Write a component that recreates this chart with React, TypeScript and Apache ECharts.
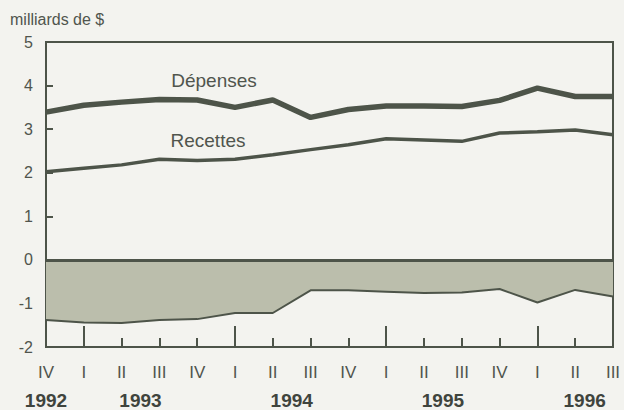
import React, { useEffect, useRef } from "react";
import * as echarts from "echarts";

const quarters = ["IV", "I", "II", "III", "IV", "I", "II", "III", "IV", "I", "II", "III", "IV", "I", "II", "III"];
const depenses = [3.39, 3.55, 3.62, 3.68, 3.67, 3.5, 3.67, 3.27, 3.45, 3.53, 3.53, 3.52, 3.66, 3.94, 3.75, 3.75];
const recettes = [2.02, 2.1, 2.18, 2.31, 2.28, 2.31, 2.41, 2.53, 2.64, 2.78, 2.75, 2.72, 2.91, 2.94, 2.98, 2.87];
const solde = [-1.38, -1.44, -1.45, -1.38, -1.36, -1.22, -1.22, -0.7, -0.7, -0.73, -0.76, -0.75, -0.67, -0.98, -0.69, -0.84];
const yearLabels = ["1992", "1993", "1994", "1995", "1996"];
const yearLabelPos = [0, 2.5, 6.5, 10.5, 14.25];
const yearStartTicks = [1, 5, 9, 13];

const LINE = "#4d5449";
const TEXT = "#50554d";
const FONT = "Liberation Sans, Arial, sans-serif";

export default function App() {
  const ref = useRef<HTMLDivElement>(null);
  useEffect(() => {
    if (!ref.current) return;
    const chart = echarts.init(ref.current, undefined, { renderer: "svg" });
    chart.setOption({
      animation: false,
      backgroundColor: "#f3f3ef",
      textStyle: { fontFamily: FONT },
      grid: {
        left: 46,
        right: 11,
        top: 42,
        bottom: 63,
        show: true,
        borderColor: LINE,
        borderWidth: 2,
        backgroundColor: "transparent",
      },
      xAxis: [
        {
          type: "category",
          data: quarters,
          boundaryGap: false,
          axisLine: { show: true, onZero: false, lineStyle: { color: LINE, width: 2 } },
          axisTick: { show: true, inside: true, length: 9, lineStyle: { color: LINE, width: 2 } },
          axisLabel: { interval: 0, color: TEXT, fontSize: 17, margin: 17, fontFamily: FONT },
          splitLine: { show: false },
        },
        {
          type: "value",
          position: "bottom",
          min: 0,
          max: 15,
          axisLine: { show: false, onZero: false },
          axisTick: {
            show: true,
            inside: true,
            length: 21,
            customValues: yearStartTicks,
            lineStyle: { color: LINE, width: 2 },
          },
          axisLabel: {
            customValues: yearLabelPos,
            formatter: (v: number) => {
              const i = yearLabelPos.findIndex((p) => Math.abs(p - v) < 1e-6);
              return i >= 0 ? yearLabels[i] : "";
            },
            color: "#3f443d",
            fontSize: 19,
            fontWeight: "bold",
            margin: 44,
            fontFamily: FONT,
          },
          splitLine: { show: false },
        },
      ],
      yAxis: {
        type: "value",
        min: -2,
        max: 5,
        interval: 1,
        axisLine: { show: true, onZero: false, lineStyle: { color: LINE, width: 2 } },
        axisTick: { show: true, inside: true, length: 7, lineStyle: { color: LINE, width: 2 } },
        axisLabel: { color: TEXT, fontSize: 16, margin: 13, fontFamily: FONT },
        splitLine: { show: false },
      },
      graphic: [
        { type: "text", left: 10, top: 11, style: { text: "milliards de $", fill: TEXT, font: "16px " + FONT } },
        { type: "text", x: 214, y: 80, style: { text: "Dépenses", fill: TEXT, font: "19px " + FONT, align: "center", verticalAlign: "middle" } },
        { type: "text", x: 208, y: 140, style: { text: "Recettes", fill: TEXT, font: "19px " + FONT, align: "center", verticalAlign: "middle" } },
        { type: "text", x: 196, y: 289, style: { text: "Solde", fill: TEXT, font: "19px " + FONT, align: "center", verticalAlign: "middle" } },
      ],
      series: [
        {
          name: "Solde",
          type: "line",
          data: solde,
          symbol: "none",
          lineStyle: { color: LINE, width: 2 },
          areaStyle: { color: "#bbbeac", opacity: 1 },
          z: 1,
          markLine: {
            silent: true,
            symbol: "none",
            label: { show: false },
            lineStyle: { color: LINE, width: 3, type: "solid" },
            data: [{ yAxis: 0 }],
          },
        },
        {
          name: "Recettes",
          type: "line",
          data: recettes,
          symbol: "none",
          lineStyle: { color: LINE, width: 3.5 },
          z: 3,
        },
        {
          name: "Dépenses",
          type: "line",
          data: depenses,
          symbol: "none",
          lineStyle: { color: LINE, width: 5.5 },
          z: 3,
        },
      ],
    });
    return () => chart.dispose();
  }, []);
  return <div ref={ref} style={{ position: "fixed", left: 0, top: 0, width: 624, height: 410 }} />;
}
